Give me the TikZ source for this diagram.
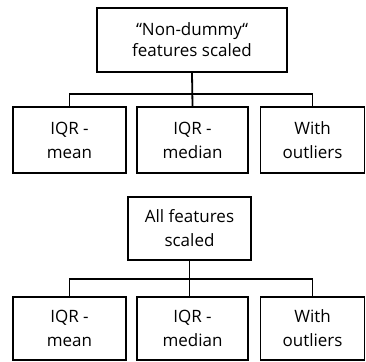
\documentclass[tikz,border=0pt]{standalone}
\usepackage{fontspec}
\setmainfont{Open Sans}
\begin{document}
\begin{tikzpicture}[x=1pt,y=-1pt,
  box/.style={draw,line width=1.8pt,align=center,inner sep=0pt,font=\fontsize{17}{24}\selectfont},
  conn/.style={line width=1.8pt}]
\useasboundingbox (0,0) rectangle (366,361);
% top group
\node[box,minimum width=190pt,minimum height=64pt,font=\fontsize{17}{21}\selectfont] (t1) at (192,40) {“Non-dummy“\\features scaled};
\node[box,minimum width=113pt,minimum height=66pt] (a1) at (69.5,140) {IQR -\\mean};
\node[box,minimum width=111pt,minimum height=66pt] (b1) at (192.5,140) {IQR -\\median};
\node[box,minimum width=104pt,minimum height=66pt] (c1) at (312.5,140) {With\\outliers};
\draw[conn] (t1.south) -- (b1.north);
\draw[conn] (a1.north) -- ++(0,-12) -| (c1.north);
% bottom group
\node[box,minimum width=123pt,minimum height=63pt] (t2) at (189.5,228.5) {All features\\scaled};
\node[box,minimum width=113pt,minimum height=63pt] (a2) at (69.5,328.5) {IQR -\\mean};
\node[box,minimum width=111pt,minimum height=63pt] (b2) at (192.5,328.5) {IQR -\\median};
\node[box,minimum width=104pt,minimum height=63pt] (c2) at (312.5,328.5) {With\\outliers};
\draw[conn] (t2.south) -- (t2.south |- b2.north);
\draw[conn] (a2.north) -- ++(0,-17) -| (c2.north);
\end{tikzpicture}
\end{document}
